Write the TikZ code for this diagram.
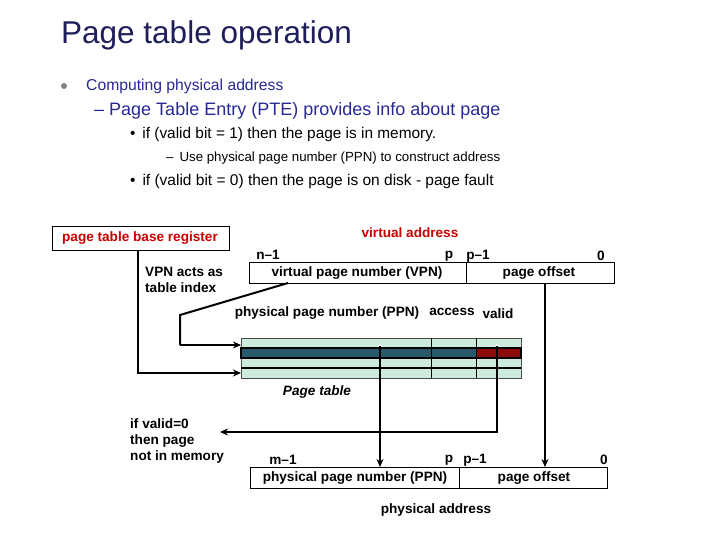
\documentclass[tikz,border=0pt]{standalone}
\usepackage{fontspec}
\setmainfont{Liberation Sans}
\usetikzlibrary{arrows.meta}
\definecolor{navy}{RGB}{30,30,90}
\definecolor{blu}{RGB}{40,40,150}
\definecolor{lt}{RGB}{205,235,220}
\definecolor{dk}{RGB}{40,90,105}
\definecolor{rd}{RGB}{140,10,10}
\definecolor{lab}{RGB}{200,0,0}
\begin{document}
\begin{tikzpicture}[x=1pt,y=-1pt,
 lbl/.style={font=\fontsize{13.6}{15}\selectfont\bfseries,inner sep=0pt},
 ln/.style={line width=2pt},
 arr/.style={line width=2pt,-{Stealth[length=8pt,width=7pt]}},
 bx/.style={draw,line width=1pt}]
\useasboundingbox (0,0) rectangle (720,540);
\node[anchor=west,text=navy,font=\fontsize{31.5}{34}\selectfont,inner sep=0] (title) at (61,35) {Page table operation};
\fill[gray] (64,86) circle (3);
\node[anchor=west,text=blu,font=\fontsize{15.7}{17}\selectfont,inner sep=0] (b1) at (86,86) {Computing physical address};
\node[anchor=west,text=blu,font=\fontsize{18}{20}\selectfont,inner sep=0] (b2) at (94,111) {-- Page Table Entry (PTE) provides info about page};
\node[anchor=west,font=\fontsize{15.4}{17}\selectfont,inner sep=0] (b3) at (130,135) {•\, if (valid bit = 1) then the page is in memory.};
\node[anchor=west,font=\fontsize{13.3}{15}\selectfont,inner sep=0] (b4) at (166,158) {--\, Use physical page number (PPN) to construct address};
\node[anchor=west,font=\fontsize{15.5}{17}\selectfont,inner sep=0] (b5) at (130,181) {•\, if (valid bit = 0) then the page is on disk - page fault};
% PTBR
\draw[bx] (52,227) rectangle (229,250);
\node[lbl,text=lab] (ptbr) at (140,238) {page table base register};
\node[lbl,text=lab] (va) at (410,233) {virtual address};
% VA box
\draw[bx] (249,262) rectangle (614,283);
\draw[line width=1pt] (466,262) -- (466,283);
\node[lbl] (vpn) at (357,273) {virtual page number (VPN)};
\node[lbl] (off) at (539,273) {page offset};
\node[lbl] at (268,255) {n--1};
\node[lbl] at (449,256) {p};
\node[lbl] at (478,256) {p--1};
\node[lbl] at (601,256) {0};
\node[lbl,align=left,anchor=north west] (vpna) at (145,267) {VPN acts as\\[1pt]table index};
% table
\fill[lt] (241,338) rectangle (521,378);
\fill[dk] (241,348) rectangle (476,358);
\fill[rd] (476,348) rectangle (521,358);
\draw[line width=0.6pt,black!70] (241,338) rectangle (521,378);
\foreach \y in {348,358,368} \draw[line width=1.2pt] (241,\y) -- (521,\y);
\draw[line width=1.2pt] (241,348) rectangle (521,358);
\foreach \x in {431,476} \draw[line width=1pt] (\x,338) -- (\x,378);
\node[lbl] at (327,313) {physical page number (PPN)};
\node[lbl] at (452,312) {access};
\node[lbl] at (498,314) {valid};
\node[lbl,font=\fontsize{13.6}{15}\selectfont\bfseries\itshape] (pt) at (317,392) {Page table};
\fill[white] (380,346) circle (1.8);
\fill[white] (497,346) circle (1.8);
% connectors
\draw[ln] (288,283) -- (180,315) -- (180,345);
\draw[arr] (180,345) -- (241,345);
\draw[arr] (138,250) -- (138,373) -- (241,373);
\draw[arr] (380,346) -- (380,467);
\draw[arr] (497,346) -- (497,432) -- (220,432);
\draw[arr] (545,283) -- (545,467);
% physical
\draw[bx] (250,467) rectangle (607,488);
\draw[line width=1pt] (459,467) -- (459,488);
\node[lbl] (ppn) at (355,478) {physical page number (PPN)};
\node[lbl] (poff) at (534,478) {page offset};
\node[lbl] at (283,460) {m--1};
\node[lbl] at (449,460) {p};
\node[lbl] at (475,460) {p--1};
\node[lbl] at (604,460) {0};
\node[lbl,align=left,anchor=north west] (inv) at (130,418) {if valid=0\\[1pt]then page\\[1pt]not in memory};
\node[lbl] (pa) at (436,510) {physical address};
\end{tikzpicture}
\end{document}
